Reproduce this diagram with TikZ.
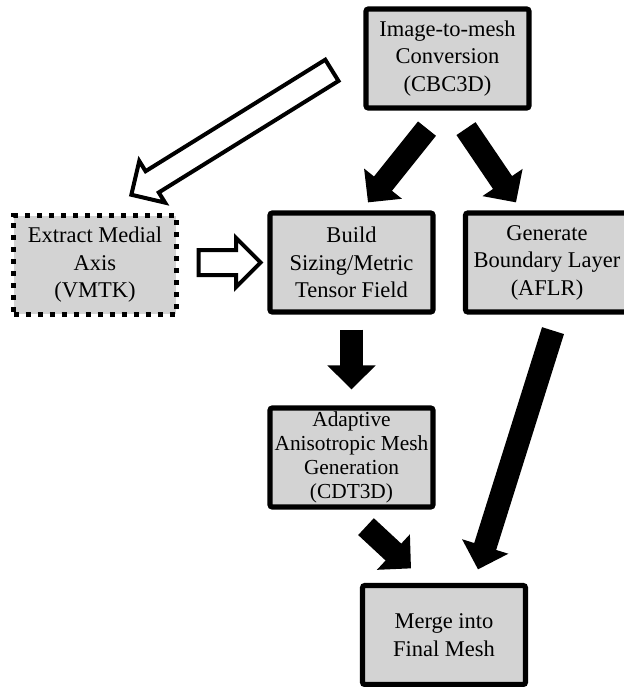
\documentclass[tikz,border=0pt]{standalone}
\usepackage{fontspec}
\setmainfont{Liberation Serif}
\usepackage{tikz}
\usetikzlibrary{arrows.meta,calc,shapes.arrows}
\definecolor{boxgray}{HTML}{D3D3D3}

\begin{document}
\begin{tikzpicture}[x=0.025cm, y=-0.025cm,
  box/.style={draw, fill=boxgray, line width=0.13cm, rounded corners=1.5pt,
    minimum width=4.07cm, minimum height=2.47cm, inner sep=0pt, align=center,
    font=\fontsize{16}{19.6}\selectfont},
  dotbox/.style={box, line width=0.125cm, rounded corners=0pt,
    dash pattern=on 0.125cm off 0.175cm},
  fatarrow/.style={line width=0.575cm, -{Triangle[width=1.175cm, length=0.6cm]}},
  hollow/.style={single arrow, draw, fill=white, line width=0.1cm,
    minimum width=0pt, inner xsep=0pt, inner ysep=0.2625cm,
    single arrow head extend=0.3cm, single arrow head indent=0pt}]
% block arrow between two points: name, tail, tip
\def\hollowarrow#1#2#3{\path let \p1=(#2), \p2=(#3),
  \n1={atan2(\y2-\y1,\x2-\x1)}, \n2={veclen(\x2-\x1,\y2-\y1)} in
  node[hollow, rotate=\n1, minimum height=\n2-2.8pt] (#1) at ($(\p1)!0.5!(\p2)$) {};}
\useasboundingbox (0,0) rectangle (624,687);
% steps
\node[box] (conv) at (447.5,58.5) {Image-to-mesh\\Conversion\\(CBC3D)};
\node[dotbox] (axis) at (95,265) {Extract Medial\\Axis\\(VMTK)};
\node[box] (metric) at (351.5,262.5) {Build\\Sizing/Metric\\Tensor Field};
\node[box] (layer) at (547,262.5) {Generate\\Boundary Layer\\(AFLR)};
\node[box, font=\fontsize{15.2}{17}\selectfont] (adapt) at (351.5,457.5)
  {Adaptive\\Anisotropic Mesh\\Generation\\(CDT3D)};
\node[box] (merge) at (444,635) {Merge into\\Final Mesh};
% hollow arrows
\hollowarrow{convaxis}{$(conv.west)+(-24.6,7.5)$}{$(axis.north)+(40,-20.6)$}
\hollowarrow{axismetric}{$(axis.east)+(11.6,-2.5)$}{$(metric.west)+(-11.1,0)$}
% solid arrows
\draw[fatarrow] ($(conv.south)+(-20.5,18.1)$) -- ($(metric.north)+(16.5,-8.1)$);
\draw[fatarrow] ($(conv.south)+(18.5,18.1)$) -- ($(layer.north)+(-31,-8.1)$);
\draw[fatarrow] ($(metric.south)+(0,15.1)$) -- ($(adapt.north)+(0,-16.1)$);
\draw[fatarrow] ($(adapt.south)+(14.5,17.1)$) -- ($(merge.north)+(-33,-14.6)$);
\draw[fatarrow] ($(layer.south)+(6,16.1)$) -- ($(merge.north)+(34,-13.6)$);
\end{tikzpicture}
\end{document}
